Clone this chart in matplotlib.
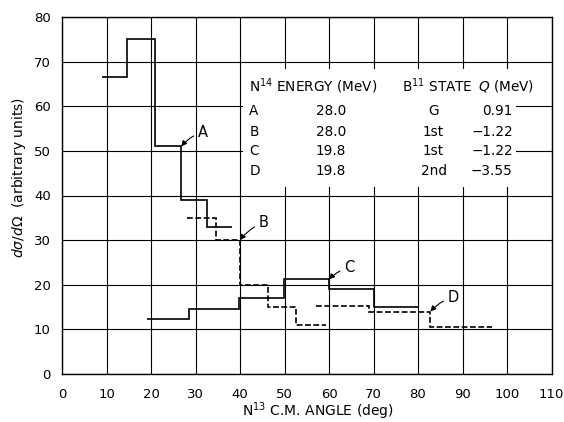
import matplotlib
matplotlib.use("Agg")
import matplotlib.pyplot as plt
from matplotlib.patches import Rectangle

# ---- data ----
a_edges = [9, 14.7, 21, 26.8, 32.6, 38.2]
a_vals = [66.5, 75, 51, 39, 33]
b_edges = [28, 34.5, 40, 46.2, 52.6, 59.3]
b_vals = [35, 30, 20, 15, 11]
c_edges = [19, 28.5, 39.7, 49.8, 60, 70, 80]
c_vals = [12.3, 14.5, 17, 21.2, 19.1, 15.1]
d_edges = [57, 68.9, 82.8, 96.7]
d_vals = [15.2, 14, 10.6]

x_ticks = [0, 10, 20, 30, 40, 50, 60, 70, 80, 90, 100, 110]
y_ticks = [0, 10, 20, 30, 40, 50, 60, 70, 80]

row_labels = ["A", "B", "C", "D"]
energies = ["28.0", "28.0", "19.8", "19.8"]
states = ["G", "1st", "1st", "2nd"]
qvals = ["0.91", "\u22121.22", "\u22121.22", "\u22123.55"]

# annotation label positions and arrow targets (data coords)
ann_text = {"A": (31.6, 54.2), "B": (45.3, 33.9), "C": (64.5, 23.8), "D": (87.9, 17.2)}
ann_target = {"A": (26.8, 51), "B": (40.0, 30), "C": (60.0, 21.2), "D": (82.8, 14.0)}

plt.rcParams['font.family'] = ['DejaVu Sans']
fig = plt.figure(figsize=(5.64, 4.22), dpi=100)
ax = fig.add_axes([62/564, (422-374)/422, (551.5-62)/564, (374-17)/422])

ax.set_xlim(0, 110)
ax.set_ylim(0, 80)
ax.set_xticks(x_ticks)
ax.set_yticks(y_ticks)
ax.set_xticklabels([str(v) for v in x_ticks], fontsize=9.5)
ax.set_yticklabels([str(v) for v in y_ticks], fontsize=9.5)
ax.tick_params(axis='x', length=0, pad=10)
ax.tick_params(axis='y', length=0, pad=8)
ax.set_axisbelow(True)
ax.grid(True, color='black', linewidth=0.8)
for s in ax.spines.values():
    s.set_linewidth(1.0)

# white box behind the table
ax.add_patch(Rectangle((40.7, 42), 61.3, 26.3, facecolor='white', edgecolor='none', zorder=1))

lw = 1.2
dash = (0, (3.5, 1.5))
ax.stairs(a_vals, a_edges, baseline=None, color='black', linewidth=lw, zorder=3)
ax.stairs(b_vals, b_edges, baseline=None, color='black', linewidth=lw, linestyle=dash, zorder=3)
ax.stairs(c_vals, c_edges, baseline=None, color='black', linewidth=lw, zorder=3)
ax.stairs(d_vals, d_edges, baseline=None, color='black', linewidth=lw, linestyle=dash, zorder=3)

for k in ann_text:
    ax.annotate(k, xy=ann_target[k], xytext=ann_text[k], fontsize=10.5,
                ha='center', va='center', zorder=4,
                arrowprops=dict(arrowstyle='-|>', color='black', lw=0.8,
                                mutation_scale=8, shrinkA=1, shrinkB=0,
                                connectionstyle='arc3,rad=0.15'))

# table
fs = 9.8
ax.text(42.1, 64.5, "N$^{14}$ ENERGY (MeV)", fontsize=fs, ha='left', va='center', zorder=4)
ax.text(76.4, 64.5, "B$^{11}$ STATE", fontsize=fs, ha='left', va='center', zorder=4)
ax.text(93.4, 64.5, "$Q$ (MeV)", fontsize=fs, ha='left', va='center', zorder=4)
row_y = [58.9, 54.3, 49.9, 45.6]
for i in range(4):
    ax.text(42.1, row_y[i], row_labels[i], fontsize=fs, ha='left', va='center', zorder=4)
    ax.text(60.5, row_y[i], energies[i], fontsize=fs, ha='center', va='center', zorder=4)
    ax.text(83.5, row_y[i], states[i], fontsize=fs, ha='center', va='center', zorder=4)
    ax.text(101.3, row_y[i], qvals[i], fontsize=fs, ha='right', va='center', zorder=4)

ax.set_xlabel("N$^{13}$ C.M. ANGLE (deg)", fontsize=10)
ax.xaxis.set_label_coords(0.523, -0.075)
ax.set_ylabel(r"$d\sigma/d\Omega$  (arbitrary units)", fontsize=10)
ax.yaxis.set_label_coords(-0.07, 0.55)

fig.savefig("out.png", dpi=100)
